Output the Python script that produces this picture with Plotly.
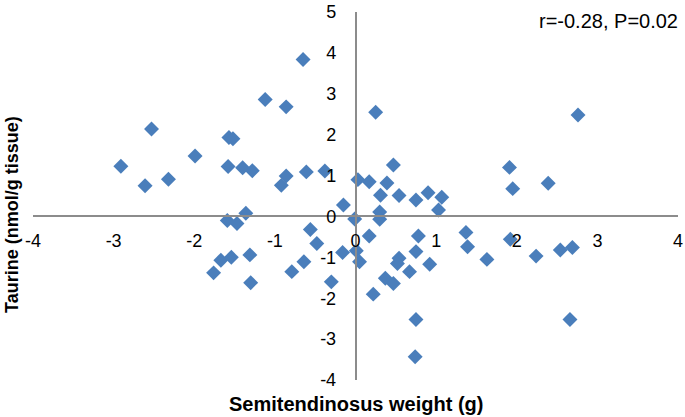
import plotly.graph_objects as go

weight = [-0.65, -1.12, -0.86, -2.53, -1.57, -1.52, -1.99, -2.91, -1.58, -1.40,
          -1.28, -0.61, -0.38, -2.32, -2.61, -0.86, -0.92, 0.03, -0.15, -1.36,
          0.25, 2.76, 0.47, 1.91, 1.95, 2.39, 0.17, 0.39, 0.31, 0.54,
          0.75, 0.90, 1.07, 1.03, -0.01, 0.30, 0.30, 0.17, 0.78, -0.16,
          0.01, 0.05, 0.75, 0.54, 0.52, 0.92, 0.67, 0.37, 0.47, 0.22,
          0.75, -0.30, 0.74, 2.66, 1.37, 1.39, 1.63, 1.92, 2.24, 2.54,
          2.69, -1.59, -1.47, -0.56, -0.48, -1.67, -1.54, -1.31, -1.76, -1.30,
          -0.79, -0.64]
taurine = [3.84, 2.86, 2.68, 2.14, 1.93, 1.90, 1.48, 1.23, 1.22, 1.19,
           1.12, 1.09, 1.11, 0.91, 0.75, 0.99, 0.76, 0.90, 0.28, 0.08,
           2.55, 2.48, 1.26, 1.20, 0.68, 0.81, 0.85, 0.82, 0.52, 0.51,
           0.40, 0.58, 0.47, 0.16, -0.06, 0.11, -0.07, -0.48, -0.48, -0.88,
           -0.84, -1.11, -0.86, -1.02, -1.15, -1.17, -1.35, -1.51, -1.64, -1.90,
           -2.52, -1.60, -3.43, -2.52, -0.39, -0.74, -1.05, -0.56, -0.97, -0.82,
           -0.76, -0.10, -0.17, -0.32, -0.66, -1.07, -1.00, -0.94, -1.38, -1.62,
           -1.35, -1.11]

x_ticks = [-4, -3, -2, -1, 0, 1, 2, 3, 4]
y_ticks = [-4, -3, -2, -1, 0, 1, 2, 3, 4, 5]
x_title = "Semitendinosus weight (g)"
y_title = "Taurine (nmol/g tissue)"
stat_text = "r=-0.28, P=0.02"

FONT = "Liberation Sans, Arial, sans-serif"
AXIS_COLOR = "#8c8c8c"

fig = go.Figure(go.Scatter(
    x=weight, y=taurine, mode="markers",
    marker=dict(symbol="diamond", size=11.5, color="#4A7EBB", line=dict(width=0)),
    hoverinfo="x+y",
))

fig.update_layout(
    width=685, height=417,
    margin=dict(l=33, r=7, t=12, b=37, autoexpand=False),
    paper_bgcolor="white", plot_bgcolor="white",
    showlegend=False,
    font=dict(family=FONT, size=18, color="black"),
    xaxis=dict(
        range=[-4, 4], tickvals=x_ticks, ticktext=[str(v) for v in x_ticks],
        anchor="free", position=4 / 9, automargin=False,
        showline=True, linecolor=AXIS_COLOR, linewidth=1.5,
        showgrid=False, zeroline=False, ticks="", ticklabelstandoff=8,
        tickfont=dict(family=FONT, size=18, color="black"),
    ),
    yaxis=dict(
        range=[-4, 5], tickvals=y_ticks, ticktext=[str(v) for v in y_ticks],
        anchor="free", position=0.5, automargin=False,
        showline=True, linecolor=AXIS_COLOR, linewidth=1.5,
        showgrid=False, zeroline=False, ticks="", ticklabelstandoff=15,
        tickfont=dict(family=FONT, size=18, color="black"),
    ),
    annotations=[
        dict(text=stat_text, xref="paper", yref="paper", x=1.003, y=(380 - 21) / 368,
             xanchor="right", yanchor="middle", showarrow=False,
             font=dict(family=FONT, size=20, color="black")),
        dict(text="<b>" + x_title + "</b>", xref="paper", yref="paper", x=0.5,
             y=(380 - 404) / 368, xanchor="center", yanchor="middle", showarrow=False,
             font=dict(family=FONT, size=20, color="black")),
        dict(text="<b>" + y_title + "</b>", xref="paper", yref="paper",
             x=(12 - 33) / 645, y=(380 - 215) / 368, xanchor="center", yanchor="middle",
             textangle=-90, showarrow=False,
             font=dict(family=FONT, size=18, color="black")),
    ],
)

fig.write_html(
    "out.html",
    config={"displayModeBar": False},
    post_script="document.body.style.margin='0';document.body.style.overflow='hidden';",
)
